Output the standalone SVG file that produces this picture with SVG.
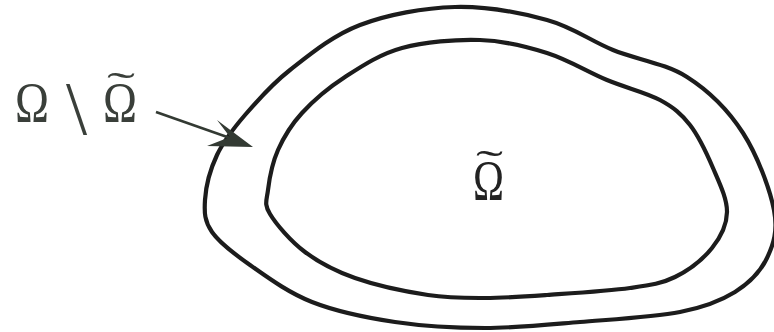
<svg xmlns="http://www.w3.org/2000/svg" width="774" height="332" viewBox="0 0 774 332">
<style>
.curve{fill:none;stroke:#1c1c1c;stroke-width:4.2;stroke-linejoin:round}
.lbl{font-family:"Liberation Serif","DejaVu Serif",serif;fill:#3a3f3a}
.ctr{font-family:"Liberation Serif","DejaVu Serif",serif;fill:#222}
</style>
<rect width="774" height="332" fill="#fff"/>
<g id="outer">
<path class="curve" d="M455,7 C486.2,6.2 520.7,12.8 547,20 C573.3,27.2 589.7,40.5 613,50 C636.3,59.5 665.3,63.2 687,77 C708.7,90.8 728.7,110.8 743,133 C757.3,155.2 770,189.2 774,210 C778,230.8 773.5,244.3 767,258 C760.5,271.7 749.5,283 735,292 C720.5,301 705.8,307 680,312 C654.2,317 612.5,319.3 580,322 C547.5,324.7 515.8,328 485,328 C454.2,328 423.8,326.3 395,322 C366.2,317.7 336.2,311.5 312,302 C287.8,292.5 266.7,276.7 250,265 C233.3,253.3 219.5,242.8 212,232 C204.5,221.2 204.2,212.8 205,200 C205.8,187.2 210.3,169.2 217,155 C223.7,140.8 232.8,129.2 245,115 C257.2,100.8 270.8,85 290,70 C309.2,55 332.5,35.5 360,25 C387.5,14.5 423.8,7.8 455,7 Z"/>
</g>
<g id="inner">
<path class="curve" d="M480,40 C504.2,40.8 525.8,46.3 547,53 C568.2,59.7 588.2,72.2 607,80 C625.8,87.8 646.2,92.5 660,100 C673.8,107.5 681.2,113.7 690,125 C698.8,136.3 706.8,153.5 713,168 C719.2,182.5 727.2,198.7 727,212 C726.8,225.3 720.7,237.2 712,248 C703.3,258.8 688.7,270.3 675,277 C661.3,283.7 651.3,285 630,288 C608.7,291 571.2,293.3 547,295 C522.8,296.7 504.8,298 485,298 C465.2,298 449.7,298.3 428,295 C406.3,291.7 375.5,285.2 355,278 C334.5,270.8 319.2,262.7 305,252 C290.8,241.3 276.2,224.3 270,214 C263.8,203.7 266.7,200.7 268,190 C269.3,179.3 272.3,162.8 278,150 C283.7,137.2 290.8,125.2 302,113 C313.2,100.8 328.3,87.8 345,77 C361.7,66.2 379.5,54.2 402,48 C424.5,41.8 455.8,39.2 480,40 Z"/>
</g>
<g id="label-boundary">
<text class="lbl" x="15" y="122" font-size="57" textLength="34" lengthAdjust="spacingAndGlyphs">Ω</text>
<text class="lbl" x="66" y="134" font-size="76">\</text>
<text class="lbl" y="122" font-size="57"><tspan x="103" textLength="34" lengthAdjust="spacingAndGlyphs">Ω</tspan><tspan x="107" y="100" font-size="40" textLength="28" lengthAdjust="spacingAndGlyphs">˜</tspan></text>
</g>
<g id="label-inner">
<text class="ctr" y="200" font-size="57"><tspan x="473" textLength="31" lengthAdjust="spacingAndGlyphs">Ω</tspan><tspan x="476" y="178" font-size="40" textLength="27" lengthAdjust="spacingAndGlyphs">˜</tspan></text>
</g>
<g id="connectors">
<line x1="156" y1="112" x2="230" y2="138" stroke="#333a33" stroke-width="2.6"/>
<polygon points="253,147 217,120 230,137 207,146" fill="#333a33"/>
</g>
</svg>
